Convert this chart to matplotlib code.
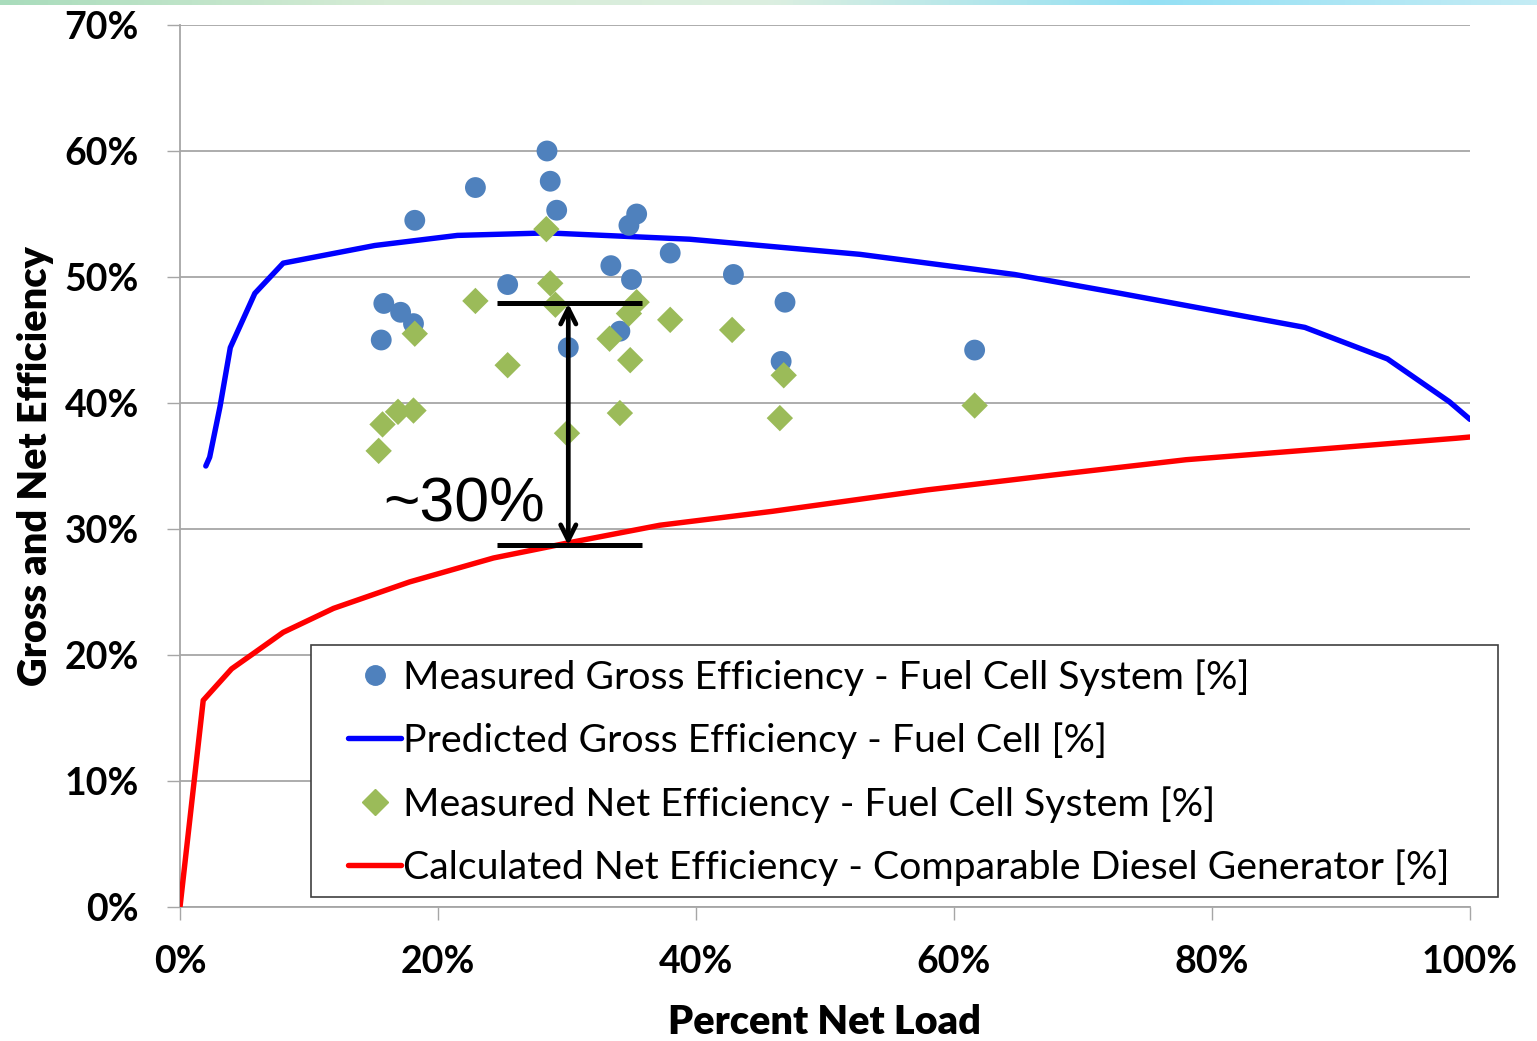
import numpy as np
import matplotlib
matplotlib.use("Agg")
import matplotlib.pyplot as plt
from matplotlib.patches import Rectangle
from matplotlib.lines import Line2D
from matplotlib.ticker import FuncFormatter, MultipleLocator
from matplotlib.colors import LinearSegmentedColormap

# ---- data (percent) ----
gross_meas_x = [28.45, 28.7, 22.9, 29.2, 18.2, 35.4, 34.8, 38.0, 33.4, 35.0, 25.4,
                15.8, 17.1, 18.1, 15.6, 34.1, 30.1, 42.9, 46.9, 46.6, 61.6]
gross_meas_y = [60.0, 57.6, 57.1, 55.3, 54.5, 55.0, 54.1, 51.9, 50.9, 49.8, 49.4,
                47.9, 47.2, 46.3, 45.0, 45.7, 44.4, 50.2, 48.0, 43.3, 44.2]

net_meas_x = [28.4, 28.7, 22.9, 29.1, 35.4, 34.8, 38.0, 33.3, 18.2, 25.4, 34.9,
              34.1, 30.0, 18.1, 16.9, 15.7, 15.4, 42.8, 46.8, 46.5, 61.6]
net_meas_y = [53.8, 49.5, 48.1, 47.8, 48.0, 47.1, 46.6, 45.1, 45.5, 43.0, 43.4,
              39.2, 37.6, 39.4, 39.3, 38.3, 36.2, 45.8, 42.2, 38.8, 39.8]

pred_x = [2.0, 2.3, 3.1, 3.9, 5.8, 8.0, 15.1, 21.5, 28.5, 39.5, 52.7, 64.7, 72.9, 87.2, 93.6, 98.4, 100.0]
pred_y = [35.0, 35.7, 39.7, 44.4, 48.7, 51.1, 52.5, 53.3, 53.5, 53.0, 51.8, 50.2, 48.7, 46.0, 43.5, 40.1, 38.7]

diesel_x = [0.0, 1.8, 4.0, 5.8, 8.0, 11.9, 17.8, 24.3, 30.1, 37.2, 45.9, 57.9, 67.8, 78.0, 89.1, 98.9, 100.0]
diesel_y = [0.0, 16.4, 18.9, 20.2, 21.8, 23.7, 25.8, 27.7, 28.9, 30.3, 31.4, 33.1, 34.3, 35.5, 36.4, 37.2, 37.3]

labels = ["Measured Gross Efficiency - Fuel Cell System [%]",
          "Predicted Gross Efficiency - Fuel Cell [%]",
          "Measured Net Efficiency - Fuel Cell System [%]",
          "Calculated Net Efficiency - Comparable Diesel Generator [%]"]

# annotation geometry (percent units)
gap_x = 30.1
gap_top = 47.9
gap_bottom = 28.7
bar_x0, bar_x1 = 24.6, 35.8

W, H = 1537, 1041
fig = plt.figure(figsize=(W / 100, H / 100), dpi=100)
ax = fig.add_axes([180 / W, 1 - 907 / H, 1290 / W, 882 / H])

# top decorative gradient strip
gax = fig.add_axes([0, 1 - 5 / H, 1, 5 / H])
gax.axis("off")
gcmap = LinearSegmentedColormap.from_list("g", ["#a9dcbc", "#d6ecd6", "#dcefe0", "#94e0f4", "#c4ecf4"])
gax.imshow(np.linspace(0, 1, 256)[None, :], aspect="auto", cmap=gcmap, extent=[0, 1, 0, 1])

grid_c = "#a6a6a6"
ax.set_xlim(0, 100)
ax.set_ylim(0, 70)
ax.yaxis.set_major_locator(MultipleLocator(10))
ax.xaxis.set_major_locator(MultipleLocator(20))
fmt = FuncFormatter(lambda v, p: f"{v:.0f}%")
ax.xaxis.set_major_formatter(fmt)
ax.yaxis.set_major_formatter(fmt)
ax.grid(axis="y", color=grid_c, lw=1.3, zorder=0)
ax.set_axisbelow(True)
for s in ["top", "right"]:
    ax.spines[s].set_visible(False)
for s in ["left", "bottom"]:
    ax.spines[s].set_color(grid_c)
    ax.spines[s].set_linewidth(1.3)
ax.tick_params(axis="both", direction="out", length=9.5, width=1.0, color=grid_c)
ax.tick_params(axis="y", pad=20)
ax.tick_params(axis="x", pad=18)
for lab in ax.get_xticklabels() + ax.get_yticklabels():
    lab.set_fontfamily("Lato")
    lab.set_fontweight("bold")
    lab.set_fontsize(27)

ax.set_ylabel("Gross and Net Efficiency", fontfamily="Lato", fontweight="heavy", fontsize=28.5, labelpad=8)
ax.set_xlabel("Percent Net Load", fontfamily="Lato", fontweight="heavy", fontsize=28.5, labelpad=18)

ax.plot(pred_x, pred_y, color="#0000ff", lw=3.9, solid_capstyle="round", zorder=3)
ax.plot(diesel_x, diesel_y, color="#ff0000", lw=3.9, solid_capstyle="round", zorder=3)
ax.scatter(gross_meas_x, gross_meas_y, s=15 ** 2, marker="o", color="#4f81bd", edgecolors="none", zorder=4)
ax.scatter(net_meas_x, net_meas_y, s=19 ** 2 * 0.5, marker="D", color="#9bbb59", edgecolors="none", zorder=5)

# gap annotation
ax.plot([bar_x0, bar_x1], [gap_top, gap_top], color="black", lw=3.6, zorder=6, solid_capstyle="butt")
ax.plot([bar_x0, bar_x1], [gap_bottom, gap_bottom], color="black", lw=3.6, zorder=6, solid_capstyle="butt")
ax.annotate("", xy=(gap_x, gap_top), xytext=(gap_x, gap_bottom),
            arrowprops=dict(arrowstyle="<->,head_length=1.1,head_width=0.55", lw=3.4, color="black",
                            shrinkA=0, shrinkB=0), zorder=7)
ax.text(28.3, 30.6, "~30%", fontfamily="Liberation Sans", fontsize=45, ha="right", va="baseline", zorder=7)

# legend frame
rect = Rectangle(((311 - 180) / 1290, (907 - 897) / 882), (1498 - 311) / 1290, (897 - 645) / 882,
                 transform=ax.transAxes, facecolor="white", edgecolor="#404040", lw=1.2,
                 clip_on=False, zorder=8)
ax.add_patch(rect)
handles = [Line2D([], [], ls="none", marker="o", ms=14, color="#4f81bd"),
           Line2D([], [], color="#0000ff", lw=3.9, solid_capstyle="round"),
           Line2D([], [], ls="none", marker="D", ms=13, color="#9bbb59"),
           Line2D([], [], color="#ff0000", lw=3.9, solid_capstyle="round")]
leg = ax.legend(handles, labels, loc="upper left", bbox_to_anchor=((348 - 180) / 1290, (907 - 659) / 882),
                frameon=False, borderpad=0, borderaxespad=0, handlelength=1.35, handletextpad=0.05,
                labelspacing=0.68, prop={"family": "Lato", "size": 28.3})
leg.set_zorder(9)

fig.savefig("out.png", dpi=100)
